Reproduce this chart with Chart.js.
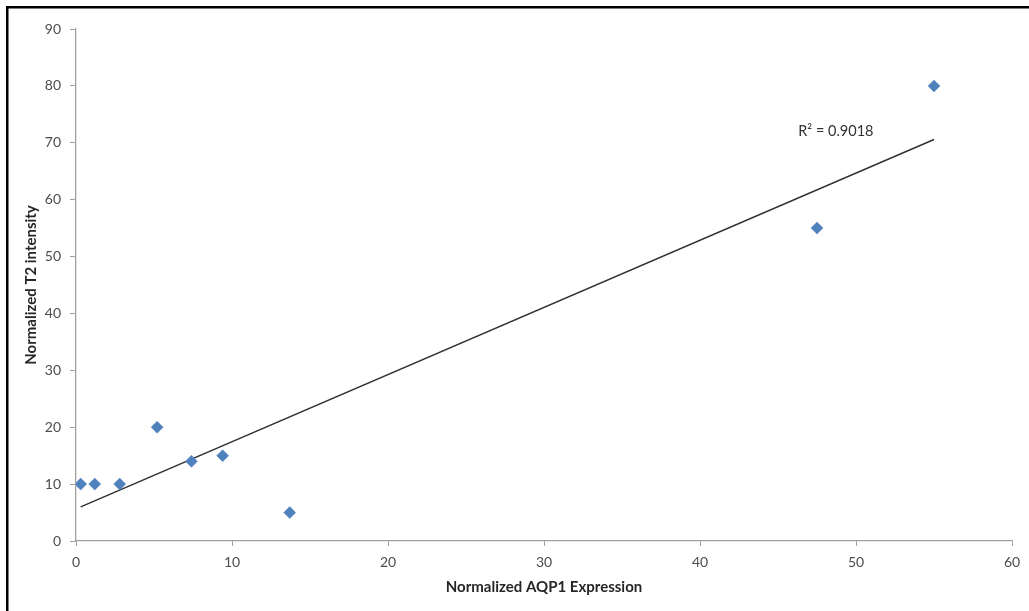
<!DOCTYPE html>
<html>
<head>
<meta charset="utf-8">
<style>
  html, body { margin: 0; padding: 0; background: #ffffff; }
  #wrap { position: relative; width: 1029px; height: 611px; }
  canvas { display: block; }
</style>
<script src="https://cdn.jsdelivr.net/npm/chart.js@4/dist/chart.umd.min.js"></script>
</head>
<body>
<div id="wrap"><canvas id="c" width="1029" height="611"></canvas></div>
<script>
// ---- data ----
const aqp1Expression = [0.3, 1.2, 2.8, 5.2, 7.4, 9.4, 13.7, 47.5, 55.0];
const t2Intensity    = [10, 10, 10, 20, 14, 15, 5, 55, 80];
const xTicks = [0, 10, 20, 30, 40, 50, 60];
const yTicks = [0, 10, 20, 30, 40, 50, 60, 70, 80, 90];
const rSquaredLabel = 'R\u00B2 = 0.9018';
const xTitle = 'Normalized AQP1 Expression';
const yTitle = 'Normalized T2 intensity';

// least-squares linear trendline over the data range
function linearFit(xs, ys) {
  const n = xs.length;
  const mx = xs.reduce((a, b) => a + b, 0) / n;
  const my = ys.reduce((a, b) => a + b, 0) / n;
  let sxy = 0, sxx = 0;
  for (let i = 0; i < n; i++) { sxy += (xs[i] - mx) * (ys[i] - my); sxx += (xs[i] - mx) ** 2; }
  const m = sxy / sxx;
  return { m, b: my - m * mx };
}
const fit = linearFit(aqp1Expression, t2Intensity);
const xMin = Math.min(...aqp1Expression), xMax = Math.max(...aqp1Expression);
const trendPoints = [xMin, xMax].map(x => ({ x, y: fit.m * x + fit.b }));
const scatterPoints = aqp1Expression.map((x, i) => ({ x, y: t2Intensity[i] }));

const FONT = "Lato, 'Open Sans', 'Liberation Sans', sans-serif";
const LABEL_COLOR = '#4d4d4d';
const AXIS_COLOR = '#a0a0a0';

const frame = {
  id: 'frame',
  afterDraw(chart) {
    const ctx = chart.ctx;
    ctx.save();
    ctx.fillStyle = '#000000';
    ctx.fillRect(6, 6, 1029 - 6, 2.5);
    ctx.fillRect(6, 6, 2.5, 611 - 6);
    // R² annotation placed in data space
    const xs = chart.scales.x, ys = chart.scales.y;
    ctx.font = "14.5px " + FONT;
    ctx.fillStyle = '#333333';
    ctx.textAlign = 'left';
    ctx.textBaseline = 'middle';
    ctx.fillText(rSquaredLabel, xs.getPixelForValue(46.3), ys.getPixelForValue(72.1));
    ctx.restore();
  }
};

new Chart(document.getElementById('c'), {
  type: 'scatter',
  data: {
    datasets: [
      {
        label: 'Data',
        data: scatterPoints,
        pointStyle: 'rectRot',
        pointRadius: 6,
        pointHoverRadius: 6,
        backgroundColor: '#4f81bd',
        borderColor: '#4f81bd',
        borderWidth: 0.5,
        order: 1
      },
      {
        label: 'Trend',
        type: 'line',
        data: trendPoints,
        borderColor: '#303030',
        borderWidth: 1.4,
        pointRadius: 0,
        fill: false,
        order: 2
      }
    ]
  },
  options: {
    responsive: false,
    animation: false,
    events: [],
    layout: { padding: { left: 0, right: 17, top: 29, bottom: 0 } },
    plugins: { legend: { display: false }, tooltip: { enabled: false } },
    scales: {
      x: {
        type: 'linear',
        min: 0, max: 60,
        afterBuildTicks(s) { s.ticks = xTicks.map(v => ({ value: v })); },
        afterFit(s) { s.height = 70; },
        ticks: { color: LABEL_COLOR, font: { family: FONT, size: 14 }, padding: 8, maxRotation: 0 },
        grid: { display: true, drawOnChartArea: false, drawTicks: true, tickLength: 5, color: AXIS_COLOR },
        border: { display: true, color: AXIS_COLOR, width: 1.3 },
        title: { display: true, text: xTitle, color: '#262626', font: { family: FONT, size: 15, weight: 'bold' }, padding: { top: 0, bottom: 15 } }
      },
      y: {
        type: 'linear',
        min: 0, max: 90,
        afterBuildTicks(s) { s.ticks = yTicks.map(v => ({ value: v })); },
        afterFit(s) { s.width = 76; },
        ticks: { color: LABEL_COLOR, font: { family: FONT, size: 14 }, padding: 9 },
        grid: { display: true, drawOnChartArea: false, drawTicks: true, tickLength: 6, color: AXIS_COLOR },
        border: { display: true, color: AXIS_COLOR, width: 1.3 },
        title: { display: true, text: yTitle, color: '#262626', font: { family: FONT, size: 15, weight: 'bold' }, padding: { top: 22, bottom: 0 } }
      }
    }
  },
  plugins: [frame]
});
</script>
</body>
</html>
